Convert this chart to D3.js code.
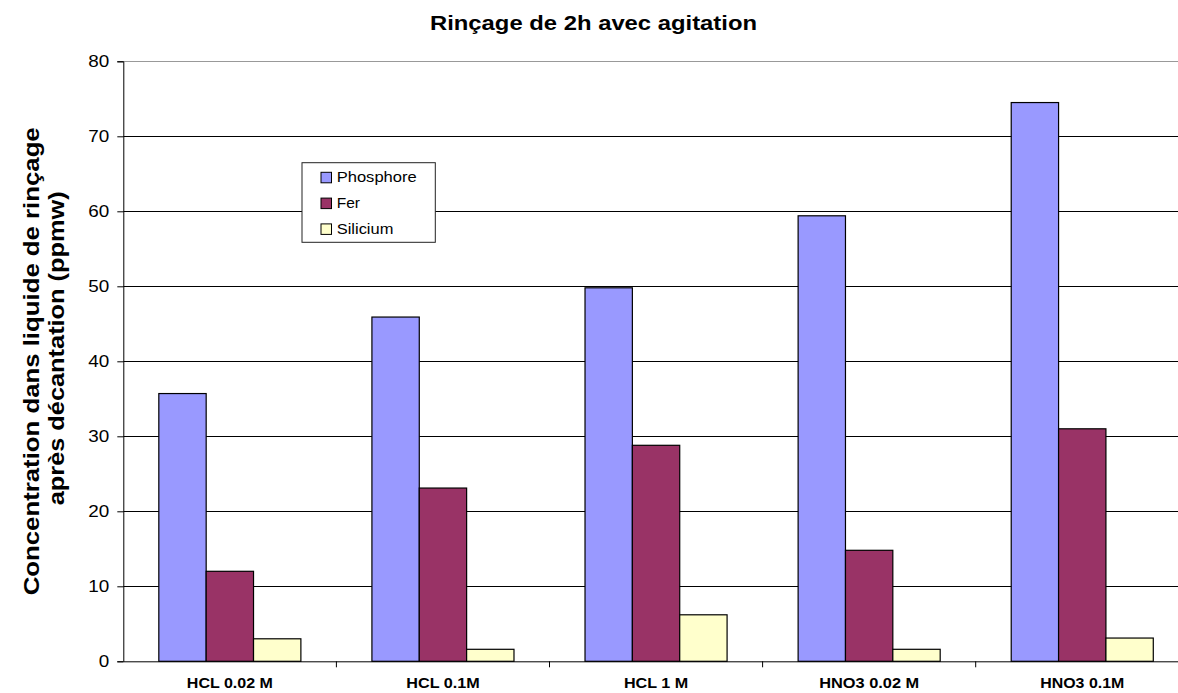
<!DOCTYPE html>
<html><head><meta charset="utf-8">
<script src="https://cdn.jsdelivr.net/npm/d3@7"></script>
<style>body{margin:0;background:#fff}svg{display:block;font-family:Arial,Helvetica,sans-serif}</style>
</head><body><svg id="c" width="1178" height="693"></svg>
<script>
const categories = ["HCL 0.02 M","HCL 0.1M","HCL 1 M","HNO3 0.02 M","HNO3 0.1M"];
const seriesNames = ["Phosphore","Fer","Silicium"];
const phosphore = [35.7,45.9,49.8,59.4,74.5];
const fer = [12.0,23.1,28.8,14.8,31.0];
const silicium = [3.0,1.6,6.2,1.6,3.1];
const colors = ["#9999ff","#993366","#ffffcc"];
const yTicks = [0,10,20,30,40,50,60,70,80];
const title = "Rinçage de 2h avec agitation";
const yLabel = ["Concentration dans liquide de rinçage","après décantation (ppmw)"];

const FONT = "Arial, Helvetica, sans-serif";
const series = [phosphore, fer, silicium];
const svg = d3.select("#c");
const mLeft = 123.3, mTop = 61.3, mBottom = 661.3, mRight = 123.3 + 213.1*5;
const x = d3.scaleBand().domain(categories).range([mLeft, mRight]).paddingInner(0).paddingOuter(0);
const y = d3.scaleLinear().domain([0,80]).range([mBottom, mTop]);
const bw = x.bandwidth()/4.5;
const x1 = d3.scaleBand().domain(seriesNames).range([0, bw*3]);
// reference text widths (wide rendering)
const xLabelW = [86,73.3,64.3,100,84];
const legendW = [80,23.3,56.7];

// gridlines
svg.append("g").selectAll("line").data(yTicks.filter(d=>d>0)).join("line")
  .attr("x1",mLeft).attr("x2",mRight).attr("y1",d=>Math.round(y(d))+0.5).attr("y2",d=>Math.round(y(d))+0.5)
  .attr("stroke",d=>d===80?"#999":"#000").attr("stroke-width",1);

// bars
series.forEach((vals,si)=>{
  svg.append("g").selectAll("rect").data(vals).join("rect")
    .attr("x",(d,i)=>x(categories[i]) + x.bandwidth()/2 - bw*1.5 + x1(seriesNames[si]))
    .attr("width",bw).attr("y",d=>y(d)).attr("height",d=>mBottom-y(d))
    .attr("fill",colors[si]).attr("stroke","#000").attr("stroke-width",1.2);
});

// y axis
const ya = svg.append("g").attr("transform",`translate(${mLeft},0)`)
  .call(d3.axisLeft(y).tickValues(yTicks).tickSize(6).tickPadding(8));
ya.select(".domain").attr("stroke","#000");
ya.selectAll("text").attr("font-size",16.5).attr("fill","#000").attr("font-family",FONT)
  .attr("textLength",d=>String(d).length*10.5).attr("lengthAdjust","spacingAndGlyphs");
// x axis
const xa = svg.append("g").attr("transform",`translate(0,${mBottom})`)
  .call(d3.axisBottom(x).tickSize(0).tickPadding(16));
xa.select(".domain").attr("stroke","#000");
xa.selectAll("text").attr("font-size",15).attr("font-weight","bold").attr("fill","#000").attr("font-family",FONT)
  .attr("textLength",(d,i)=>xLabelW[i]).attr("lengthAdjust","spacingAndGlyphs");
svg.append("g").selectAll("line").data(categories.slice(1)).join("line")
  .attr("x1",d=>x(d)).attr("x2",d=>x(d)).attr("y1",mBottom).attr("y2",mBottom+6).attr("stroke","#000");

// title
svg.append("text").attr("x",430).attr("y",30).attr("font-family",FONT)
  .attr("font-size",19.5).attr("font-weight","bold")
  .attr("textLength",327).attr("lengthAdjust","spacingAndGlyphs").text(title);

// y label
const yl = svg.append("text").attr("transform",`translate(0,${(mTop+mBottom)/2}) rotate(-90)`)
  .attr("text-anchor","middle").attr("font-size",22.5).attr("font-weight","bold").attr("font-family",FONT);
yl.append("tspan").attr("x",0).attr("y",39).attr("textLength",468).attr("lengthAdjust","spacingAndGlyphs").text(yLabel[0]);
yl.append("tspan").attr("x",13).attr("y",64).attr("textLength",314).attr("lengthAdjust","spacingAndGlyphs").text(yLabel[1]);

// legend
const lg = svg.append("g").attr("transform","translate(302,162.7)");
lg.append("rect").attr("width",133.3).attr("height",79.6).attr("fill","#fff").attr("stroke","#222").attr("stroke-width",1);
seriesNames.forEach((n,i)=>{
  const gy = 19.6 + i*25.8;
  lg.append("rect").attr("x",19).attr("y",gy-10).attr("width",10.5).attr("height",10.5)
    .attr("fill",colors[i]).attr("stroke","#000").attr("stroke-width",1);
  lg.append("text").attr("x",34.7).attr("y",gy).attr("font-size",15).attr("font-family",FONT)
    .attr("textLength",legendW[i]).attr("lengthAdjust","spacingAndGlyphs").text(n);
});
</script></body></html>
